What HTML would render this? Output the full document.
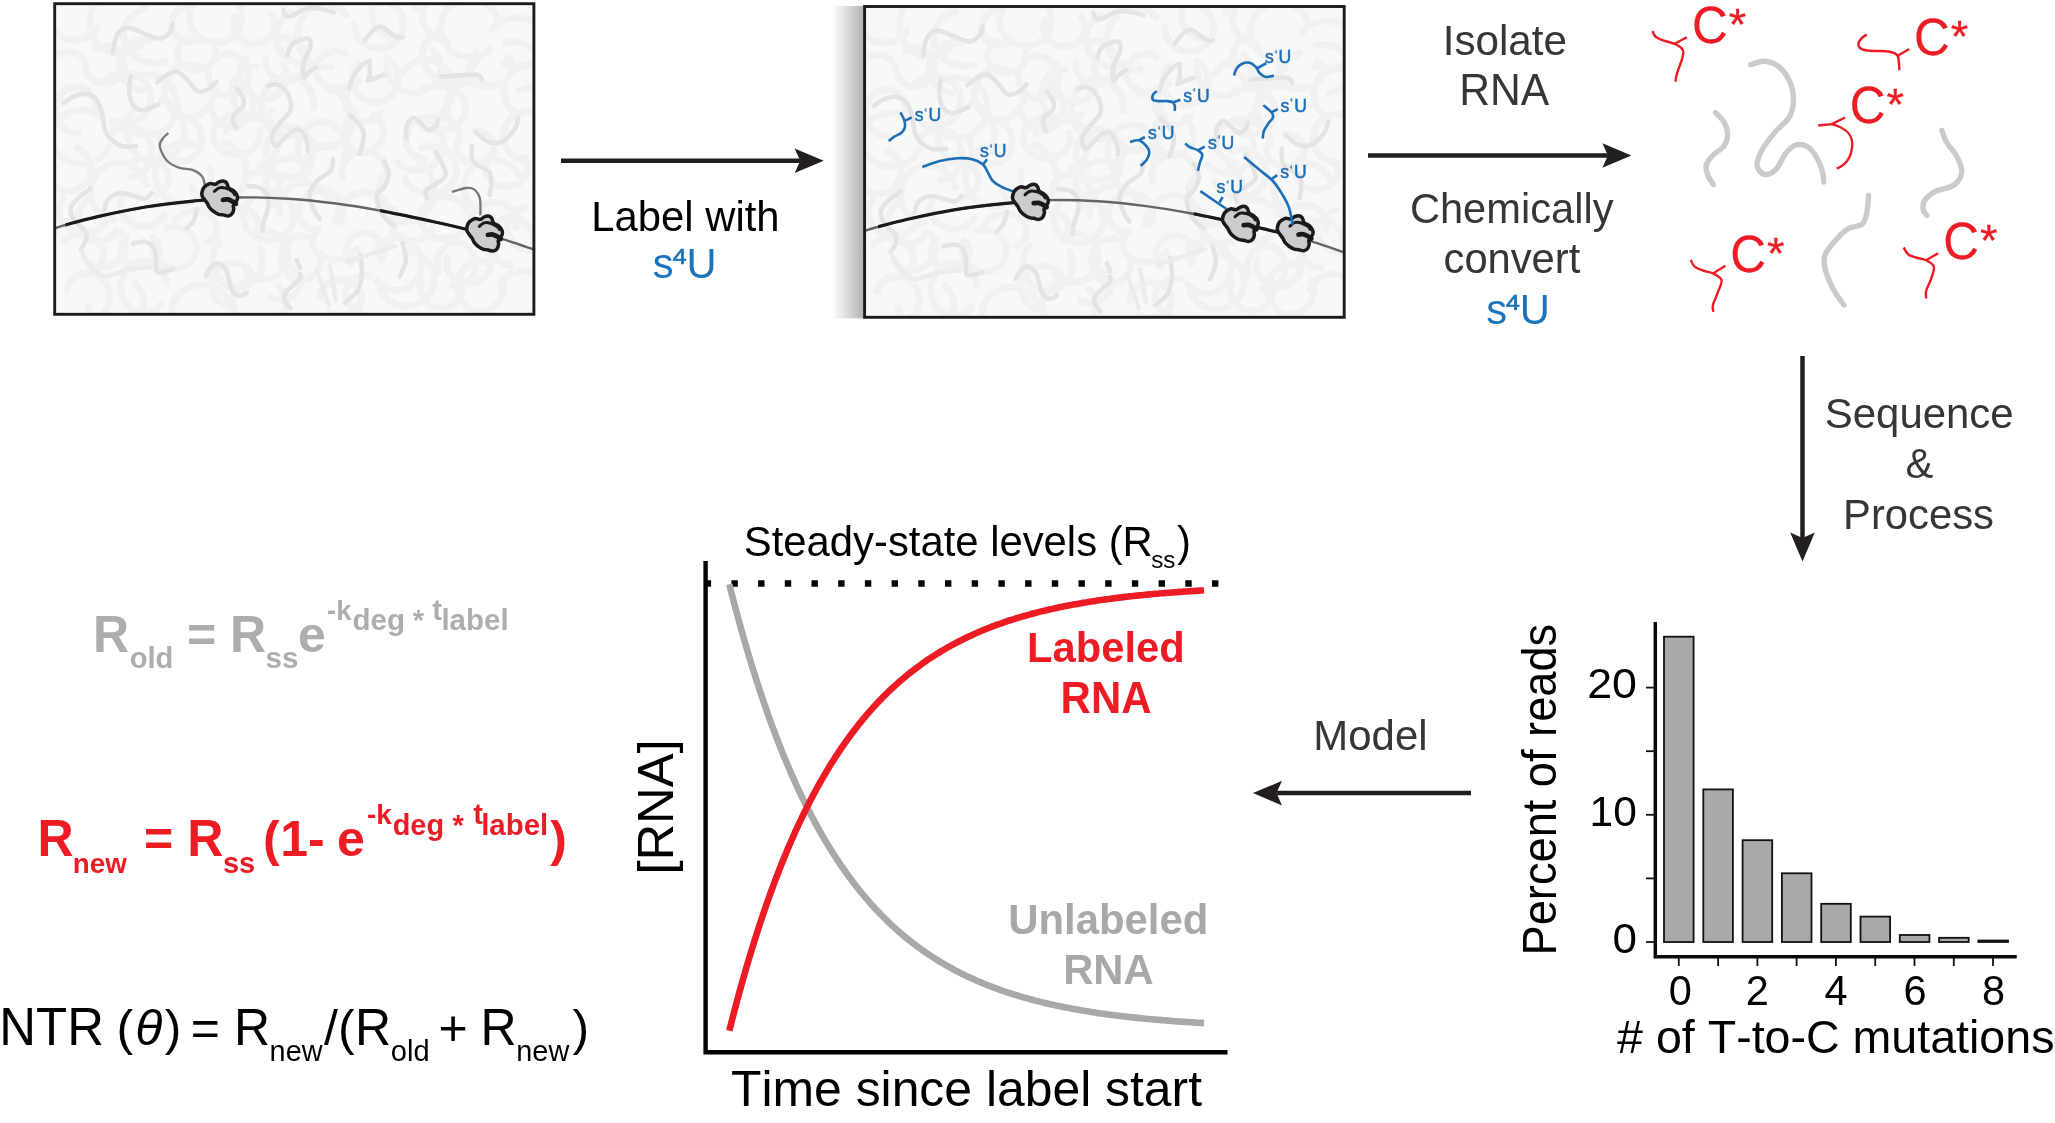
<!DOCTYPE html>
<html lang="en"><head><meta charset="utf-8"><title>s4U metabolic labeling schematic</title>
<style>html,body{margin:0;padding:0;background:#fff;}body{width:2055px;height:1123px;overflow:hidden;}svg{display:block;will-change:transform;}text{font-family:"Liberation Sans", Arial, Helvetica, sans-serif;font-kerning:none;white-space:pre;}</style></head><body>
<svg width="2055" height="1123" viewBox="0 0 2055 1123">
<defs>
<linearGradient id="shade" x1="0" y1="0" x2="1" y2="0"><stop offset="0" stop-color="#ffffff"/><stop offset="0.25" stop-color="#ececed"/><stop offset="0.6" stop-color="#cfd0d2"/><stop offset="1" stop-color="#adaeb2"/></linearGradient>
<g id="ribo"><path d="M-17.59,-5.17 C-17.42,-6.49 -16.84,-8.81 -16.10,-10.13 C-15.35,-11.46 -14.27,-12.29 -13.12,-13.12 C-11.96,-13.94 -10.63,-14.92 -9.14,-15.10 C-7.65,-15.28 -5.66,-13.96 -4.17,-14.21 C-2.68,-14.46 -1.52,-16.03 -0.20,-16.59 C1.13,-17.16 2.53,-17.75 3.78,-17.59 C5.02,-17.42 6.34,-16.76 7.25,-15.60 C8.16,-14.44 8.16,-11.87 9.24,-10.63 C10.32,-9.39 12.39,-9.22 13.71,-8.15 C15.04,-7.07 16.44,-5.50 17.19,-4.17 C17.93,-2.85 18.35,-1.61 18.18,-0.20 C18.02,1.21 16.91,3.03 16.20,4.27 C15.48,5.51 14.22,6.18 13.91,7.25 C13.60,8.33 14.51,9.41 14.31,10.73 C14.11,12.06 13.65,14.08 12.72,15.20 C11.79,16.33 10.23,17.29 8.74,17.49 C7.25,17.69 5.35,16.68 3.78,16.39 C2.20,16.11 0.96,16.41 -0.70,15.80 C-2.35,15.19 -4.59,13.89 -6.16,12.72 C-7.73,11.54 -9.14,10.07 -10.13,8.74 C-11.13,7.42 -11.29,6.09 -12.12,4.77 C-12.95,3.44 -14.27,1.95 -15.10,0.79 C-15.93,-0.36 -16.68,-1.19 -17.09,-2.19 C-17.50,-3.18 -17.75,-3.84 -17.59,-5.17 Z" fill="#cbccce" stroke="#1a1a1a" stroke-width="3.5" stroke-linejoin="round"/><path d="M-5.02,-7.16 C-4.22,-7.75 -2.08,-10.15 -0.21,-10.68 C1.66,-11.22 4.06,-10.95 6.20,-10.36 C8.33,-9.78 11.09,-8.23 12.61,-7.16 C14.12,-6.09 14.83,-4.49 15.28,-3.95" fill="none" stroke="#1a1a1a" stroke-width="3" stroke-linecap="round"/><path d="M3.63,1.28 C4.42,1.23 6.70,0.64 8.33,0.96 C9.97,1.28 12.11,2.48 13.46,3.21 C14.81,3.94 15.95,4.99 16.45,5.34" fill="none" stroke="#1a1a1a" stroke-width="4.8" stroke-linecap="round"/></g>
<g id="cellbg" fill="none" stroke-linecap="round">
<g stroke="#f1f1f2" stroke-width="7">
<path d="M96.8,28.7 A26.2,24.3 0 1 1 80.4,-8.0"/>
<path d="M48.1,73.1 A19.4,16.1 0 1 1 85.2,63.3"/>
<path d="M79.6,132.2 A20.4,23.0 0 1 1 96.3,109.3"/>
<path d="M108.9,146.7 A29.7,26.8 0 1 1 102.8,118.6"/>
<path d="M77.3,147.8 A22.4,22.5 0 1 1 49.6,180.6"/>
<path d="M105.2,223.0 A25.0,21.8 0 1 1 62.8,197.5"/>
<path d="M64.0,241.5 A22.5,20.3 0 1 1 79.6,275.1"/>
<path d="M67.1,288.8 A21.7,24.0 0 1 1 80.9,319.5"/>
<path d="M143.1,41.2 A29.8,31.7 0 1 1 129.7,-7.5"/>
<path d="M95.4,47.8 A19.4,19.4 0 1 1 85.9,68.0"/>
<path d="M103.1,82.9 A26.6,25.6 0 1 1 112.2,121.0"/>
<path d="M111.8,132.7 A24.2,25.3 0 1 1 130.1,177.0"/>
<path d="M112.8,220.2 A28.0,29.0 0 1 1 145.6,184.3"/>
<path d="M116.8,229.9 A20.8,22.3 0 1 1 90.6,198.1"/>
<path d="M120.4,231.0 A23.3,22.3 0 1 1 83.6,258.4"/>
<path d="M134.5,282.6 A28.0,26.5 0 1 1 88.2,305.4"/>
<path d="M164.5,61.7 A29.5,26.0 0 1 1 145.5,8.3"/>
<path d="M141.8,90.0 A25.5,24.1 0 1 1 150.0,39.9"/>
<path d="M136.8,77.4 A29.5,30.0 0 1 1 123.3,121.6"/>
<path d="M161.5,100.1 A28.9,31.2 0 1 1 135.7,108.1"/>
<path d="M134.8,161.2 A20.1,16.6 0 1 1 156.6,194.5"/>
<path d="M164.6,214.9 A22.7,19.4 0 1 1 123.0,196.9"/>
<path d="M153.6,237.5 A19.3,16.4 0 1 1 126.4,237.6"/>
<path d="M160.8,304.8 A23.0,26.4 0 1 1 166.6,282.8"/>
<path d="M202.8,38.5 A19.9,17.8 0 1 1 187.1,6.6"/>
<path d="M215.3,49.6 A19.3,16.4 0 1 1 187.6,38.7"/>
<path d="M213.5,86.3 A24.8,25.9 0 1 1 199.4,67.3"/>
<path d="M183.9,116.6 A20.8,22.4 0 1 1 160.3,138.4"/>
<path d="M210.8,168.5 A27.9,30.2 0 1 1 195.1,146.1"/>
<path d="M175.3,221.4 A21.5,17.4 0 1 1 206.7,242.7"/>
<path d="M166.8,228.4 A21.9,20.9 0 1 1 154.6,239.8"/>
<path d="M180.6,328.9 A29.5,25.9 0 1 1 229.0,301.2"/>
<path d="M236.7,3.5 A25.9,25.0 0 1 1 213.0,-7.0"/>
<path d="M217.9,56.5 A19.9,21.4 0 1 1 208.7,71.1"/>
<path d="M236.3,82.0 A21.0,22.6 0 1 1 212.0,110.6"/>
<path d="M259.6,130.3 A23.4,20.1 0 1 1 235.5,114.7"/>
<path d="M223.8,142.1 A29.0,31.5 0 1 1 192.1,188.4"/>
<path d="M215.9,214.6 A22.9,18.4 0 1 1 254.2,237.2"/>
<path d="M260.1,249.1 A24.8,27.4 0 1 1 219.1,242.5"/>
<path d="M227.6,305.9 A21.8,21.9 0 1 1 251.5,272.8"/>
<path d="M271.2,13.7 A20.4,19.6 0 1 1 235.2,16.7"/>
<path d="M283.6,64.6 A23.6,23.3 0 1 1 246.5,59.5"/>
<path d="M271.1,111.3 A23.8,25.7 0 1 1 255.4,66.4"/>
<path d="M226.3,130.9 A27.0,26.5 0 1 1 259.8,166.0"/>
<path d="M243.6,179.5 A20.2,18.1 0 1 1 271.3,205.0"/>
<path d="M269.9,192.1 A25.2,24.0 0 1 1 249.9,200.1"/>
<path d="M255.2,232.1 A24.6,24.3 0 1 1 245.6,271.7"/>
<path d="M279.1,286.6 A26.7,23.8 0 1 1 259.5,278.7"/>
<path d="M317.3,60.8 A28.2,27.0 0 1 1 291.3,12.2"/>
<path d="M275.6,40.4 A19.8,22.1 0 1 1 265.6,60.1"/>
<path d="M303.9,129.6 A26.3,29.9 0 1 1 313.8,107.6"/>
<path d="M266.1,155.6 A23.4,25.5 0 1 1 272.9,170.2"/>
<path d="M274.7,198.0 A24.7,22.5 0 1 1 310.5,167.4"/>
<path d="M280.1,212.7 A25.1,23.0 0 1 1 328.2,199.2"/>
<path d="M320.3,253.4 A19.7,22.5 0 1 1 306.6,236.5"/>
<path d="M289.7,267.3 A19.4,16.4 0 1 1 270.3,297.6"/>
<path d="M330.1,66.5 A28.0,31.4 0 1 1 346.3,14.7"/>
<path d="M354.4,77.7 A20.0,19.0 0 1 1 345.9,53.4"/>
<path d="M330.0,90.6 A26.0,28.6 0 1 1 305.6,135.6"/>
<path d="M308.9,171.5 A24.0,27.0 0 1 1 343.5,160.9"/>
<path d="M329.1,193.3 A24.8,21.2 0 1 1 335.4,145.2"/>
<path d="M313.6,229.8 A22.4,20.2 0 1 1 338.6,222.7"/>
<path d="M356.4,248.6 A22.8,18.4 0 1 1 318.7,228.9"/>
<path d="M319.5,297.8 A21.1,17.7 0 1 1 328.8,312.1"/>
<path d="M391.5,4.0 A24.4,23.9 0 1 1 354.7,24.6"/>
<path d="M386.7,58.7 A22.8,23.3 0 1 1 358.5,63.4"/>
<path d="M381.0,113.0 A19.6,20.8 0 1 1 359.3,81.0"/>
<path d="M374.2,114.8 A19.9,20.6 0 1 1 355.5,113.3"/>
<path d="M342.6,177.4 A22.2,21.2 0 1 1 385.6,177.6"/>
<path d="M335.2,221.3 A29.7,33.8 0 1 1 379.3,255.2"/>
<path d="M350.9,263.9 A19.0,18.6 0 1 1 381.6,260.2"/>
<path d="M360.2,312.1 A19.1,17.9 0 1 1 370.2,276.0"/>
<path d="M396.3,35.8 A22.3,22.0 0 1 1 415.9,9.8"/>
<path d="M433.2,50.8 A26.9,24.6 0 1 1 388.0,61.7"/>
<path d="M403.5,72.1 A27.0,29.5 0 1 1 431.2,117.9"/>
<path d="M428.0,119.5 A27.1,26.6 0 1 1 397.1,162.1"/>
<path d="M419.7,163.6 A27.9,31.0 0 1 1 381.3,177.3"/>
<path d="M433.0,226.6 A21.5,19.9 0 1 1 394.9,209.2"/>
<path d="M378.2,246.4 A25.1,26.1 0 1 1 377.2,281.4"/>
<path d="M406.1,251.3 A27.8,27.4 0 1 1 379.7,286.5"/>
<path d="M447.4,42.0 A27.1,24.2 0 1 1 456.8,-10.7"/>
<path d="M476.5,52.5 A27.1,25.3 0 1 1 438.3,32.1"/>
<path d="M422.3,89.8 A27.4,22.7 0 1 1 423.0,127.3"/>
<path d="M424.3,159.7 A27.2,21.9 0 1 1 459.8,140.4"/>
<path d="M421.5,147.9 A26.4,23.8 0 1 1 405.2,178.4"/>
<path d="M461.5,232.4 A24.1,21.0 0 1 1 467.4,211.6"/>
<path d="M438.1,272.1 A19.2,21.9 0 1 1 452.6,286.0"/>
<path d="M461.9,279.3 A21.3,21.4 0 1 1 421.5,280.3"/>
<path d="M489.6,49.5 A29.5,28.8 0 1 1 498.2,20.0"/>
<path d="M507.8,57.7 A21.5,17.4 0 1 1 473.2,58.0"/>
<path d="M458.2,125.5 A24.0,22.1 0 1 1 483.2,86.2"/>
<path d="M474.6,131.5 A19.0,16.0 0 1 1 458.1,141.1"/>
<path d="M484.6,213.0 A28.9,27.1 0 1 1 519.3,176.2"/>
<path d="M473.1,229.6 A23.0,18.8 0 1 1 515.4,227.1"/>
<path d="M488.9,255.6 A22.1,19.8 0 1 1 447.6,257.3"/>
<path d="M502.3,278.0 A23.1,25.1 0 1 1 487.8,262.6"/>
<path d="M491.9,29.7 A29.3,24.0 0 1 1 504.6,63.6"/>
<path d="M505.9,42.2 A27.3,22.3 0 1 1 518.6,90.6"/>
<path d="M514.8,112.7 A24.2,25.6 0 1 1 552.2,89.2"/>
<path d="M521.4,159.2 A26.2,24.6 0 1 1 555.3,139.2"/>
<path d="M524.6,157.6 A21.3,18.7 0 1 1 490.8,155.7"/>
<path d="M542.9,249.3 A23.9,19.9 0 1 1 525.4,207.1"/>
<path d="M510.7,265.2 A21.6,24.0 0 1 1 533.4,242.5"/>
<path d="M500.0,287.0 A23.6,21.6 0 1 1 532.3,312.3"/>
</g>
<g stroke="#e4e4e4" stroke-width="4.6">
<path d="M113.00,53.00 C113.30,51.02 113.67,44.73 114.80,41.10 C115.93,37.47 117.30,33.37 119.80,31.20 C122.30,29.03 125.63,27.68 129.80,28.10 C133.97,28.52 139.82,31.93 144.80,33.70 C149.78,35.47 155.55,38.92 159.70,38.70 C163.85,38.48 167.52,34.90 169.70,32.40 C171.88,29.90 172.28,25.15 172.80,23.70"/>
<path d="M130.80,76.70 C130.53,78.88 128.95,85.33 129.20,89.80 C129.45,94.27 130.12,100.08 132.30,103.50 C134.48,106.92 137.93,110.20 142.30,110.30 C146.67,110.40 155.80,105.13 158.50,104.10"/>
<path d="M157.20,82.30 C158.87,81.05 163.87,76.57 167.20,74.80 C170.53,73.03 173.87,70.87 177.20,71.70 C180.53,72.53 183.88,76.58 187.20,79.80 C190.52,83.02 193.78,89.33 197.10,91.00 C200.42,92.67 203.87,91.35 207.10,89.80 C210.33,88.25 214.93,83.05 216.50,81.70"/>
<path d="M63.70,102.90 C65.57,101.75 70.95,97.47 74.90,96.00 C78.85,94.53 83.65,93.27 87.40,94.10 C91.15,94.93 94.90,97.57 97.40,101.00 C99.90,104.43 101.15,109.92 102.40,114.70 C103.65,119.48 103.65,125.75 104.90,129.70 C106.15,133.65 107.05,135.68 109.90,138.40 C112.75,141.12 117.65,144.73 122.00,146.00 C126.35,147.27 133.67,146.00 136.00,146.00"/>
<path d="M237.00,88.50 C238.05,90.17 242.37,95.38 243.30,98.50 C244.23,101.62 244.07,104.70 242.60,107.20 C241.13,109.70 236.05,111.00 234.50,113.50 C232.95,116.00 232.98,119.72 233.30,122.20 C233.62,124.68 235.88,127.37 236.40,128.40"/>
<path d="M267.60,86.00 C269.37,85.80 274.77,83.33 278.20,84.80 C281.63,86.27 286.13,90.65 288.20,94.80 C290.27,98.95 291.85,105.13 290.60,109.70 C289.35,114.27 283.60,118.45 280.70,122.20 C277.80,125.95 274.65,129.28 273.20,132.20 C271.75,135.12 271.53,137.40 272.00,139.70 C272.47,142.00 274.13,146.00 276.00,146.00 C277.87,146.00 280.77,142.00 283.20,139.70 C285.63,137.40 287.80,133.87 290.60,132.20 C293.40,130.53 297.28,128.10 300.00,129.70 C302.72,131.30 305.60,138.23 306.90,141.80 C308.20,145.37 307.65,149.55 307.80,151.10"/>
<path d="M283.20,10.00 C283.82,11.03 285.03,15.37 286.90,16.20 C288.77,17.03 292.22,15.83 294.40,15.00 C296.58,14.17 297.40,12.35 300.00,11.20 C302.60,10.05 306.27,8.40 310.00,8.10 C313.73,7.80 318.47,8.67 322.40,9.40 C326.33,10.13 331.73,11.98 333.60,12.50"/>
<path d="M287.50,55.50 C288.02,53.93 288.93,48.50 290.60,46.10 C292.27,43.70 294.48,42.33 297.50,41.10 C300.52,39.87 306.62,37.45 308.70,38.70 C310.78,39.95 310.83,44.67 310.00,48.60 C309.17,52.53 304.75,57.52 303.70,62.30 C302.65,67.08 302.87,75.63 303.70,77.30 C304.53,78.97 306.62,73.97 308.70,72.30 C310.78,70.63 314.95,68.13 316.20,67.30"/>
<path d="M364.80,40.50 C366.05,38.95 369.60,33.48 372.30,31.20 C375.00,28.92 378.08,26.60 381.00,26.80 C383.92,27.00 387.10,30.63 389.80,32.40 C392.50,34.17 395.03,36.57 397.20,37.40 C399.37,38.23 401.87,37.40 402.80,37.40"/>
<path d="M349.20,88.50 C349.93,86.43 351.42,80.05 353.60,76.10 C355.78,72.15 359.60,67.30 362.30,64.80 C365.00,62.30 368.55,61.72 369.80,61.10"/>
<path d="M440.90,76.70 C443.80,76.48 452.28,75.72 458.30,75.40 C464.32,75.08 473.05,74.07 477.00,74.80 C480.95,75.53 481.17,78.97 482.00,79.80"/>
<path d="M349.90,115.30 C351.13,116.45 355.02,119.38 357.30,122.20 C359.58,125.02 362.70,128.65 363.60,132.20 C364.50,135.75 363.40,139.92 362.70,143.50 C362.00,147.08 359.95,152.00 359.40,153.70"/>
<path d="M406.60,138.40 C406.60,136.32 405.47,129.33 406.60,125.90 C407.73,122.47 411.02,118.22 413.40,117.80 C415.78,117.38 418.40,121.42 420.90,123.40 C423.40,125.38 425.90,129.28 428.40,129.70 C430.90,130.12 434.33,127.57 435.90,125.90 C437.47,124.23 437.48,120.73 437.80,119.70"/>
<path d="M475.80,132.20 C477.82,133.80 483.63,140.20 487.90,141.80 C492.17,143.40 496.98,143.82 501.40,141.80 C505.82,139.78 511.60,133.58 514.40,129.70 C517.20,125.82 517.57,120.37 518.20,118.50"/>
<path d="M90.50,188.70 C88.53,190.17 82.02,194.17 78.70,197.50 C75.38,200.83 71.23,204.77 70.60,208.70 C69.97,212.63 72.30,217.15 74.90,221.10 C77.50,225.05 84.53,228.87 86.20,232.40 C87.87,235.93 85.85,239.50 84.90,242.30 C83.95,245.10 81.23,248.05 80.50,249.20"/>
<path d="M104.20,209.90 C104.93,208.03 105.78,201.50 108.60,198.70 C111.42,195.90 116.73,193.52 121.10,193.10 C125.47,192.68 130.85,195.27 134.80,196.20 C138.75,197.13 142.00,199.22 144.80,198.70 C147.60,198.18 150.47,194.03 151.60,193.10"/>
<path d="M132.90,243.60 C134.88,243.28 141.37,241.08 144.80,241.70 C148.23,242.32 151.63,244.28 153.50,247.30 C155.37,250.32 155.48,255.75 156.00,259.80 C156.52,263.85 155.15,269.63 156.60,271.60 C158.05,273.57 162.00,272.00 164.70,271.60 C167.40,271.20 171.45,269.60 172.80,269.20"/>
<path d="M205.90,276.00 C206.72,274.55 208.73,269.38 210.80,267.30 C212.87,265.22 215.80,263.08 218.30,263.50 C220.80,263.92 223.92,266.68 225.80,269.80 C227.68,272.92 228.35,278.47 229.60,282.20 C230.85,285.93 231.65,289.90 233.30,292.20 C234.95,294.50 237.22,295.90 239.50,296.00 C241.78,296.10 245.75,293.33 247.00,292.80"/>
<path d="M186.50,228.60 C187.65,227.35 191.63,224.42 193.40,221.10 C195.17,217.78 196.48,210.77 197.10,208.70"/>
<path d="M248.30,186.20 C250.17,186.42 256.38,186.03 259.50,187.50 C262.62,188.97 265.55,191.68 267.00,195.00 C268.45,198.32 268.73,203.05 268.20,207.40 C267.67,211.75 264.73,217.25 263.80,221.10 C262.87,224.95 262.80,228.93 262.60,230.50"/>
<path d="M300.00,274.00 C300.02,274.80 302.28,275.97 300.10,278.80 C297.92,281.63 289.52,287.52 286.90,291.00 C284.28,294.48 283.78,296.80 284.40,299.70 C285.02,302.60 289.57,306.95 290.60,308.40"/>
<path d="M333.10,158.80 C332.68,160.77 333.27,166.95 330.60,170.60 C327.93,174.25 320.62,176.75 317.10,180.70 C313.58,184.65 310.07,189.50 309.50,194.30 C308.93,199.10 312.02,205.42 313.70,209.50 C315.38,213.58 318.62,217.25 319.60,218.80"/>
<path d="M383.90,161.30 C384.75,163.42 389.00,169.63 389.00,174.00 C389.00,178.37 385.88,184.12 383.90,187.50 C381.92,190.88 377.82,190.63 377.10,194.30 C376.38,197.97 378.05,205.28 379.60,209.50 C381.15,213.72 384.00,216.92 386.40,219.60 C388.80,222.28 392.73,224.60 394.00,225.60"/>
<path d="M435.50,152.00 C436.62,153.97 440.52,159.85 442.20,163.80 C443.88,167.75 446.72,172.32 445.60,175.70 C444.48,179.08 438.88,181.57 435.50,184.10 C432.12,186.63 426.72,188.50 425.30,190.90 C423.88,193.30 426.72,197.23 427.00,198.50"/>
<path d="M471.80,146.10 C471.95,148.48 471.15,156.88 472.70,160.40 C474.25,163.92 478.28,165.22 481.10,167.20 C483.92,169.18 487.90,169.48 489.60,172.30 C491.30,175.12 491.30,180.30 491.30,184.10 C491.30,187.90 489.88,193.27 489.60,195.10"/>
<path d="M360.20,254.30 C360.48,257.55 362.32,267.73 361.90,273.80 C361.48,279.87 360.52,285.92 357.70,290.70 C354.88,295.48 347.12,300.53 345.00,302.50"/>
<path d="M402.50,243.30 C403.07,246.12 406.33,254.70 405.90,260.20 C405.47,265.70 400.90,273.62 399.90,276.30"/>
<path d="M296.80,260.20 C297.35,261.50 299.55,266.70 300.10,268.00"/>
<path d="M369.8,61.1 L369.8,74.8 L367.3,81 L383.5,74.8" stroke-linejoin="round"/>
</g>
<g stroke="#ececee" stroke-width="4.5"><path d="M81.00,251.00 C82.67,253.75 87.00,263.33 91.00,267.50 C95.00,271.67 99.00,275.58 105.00,276.00 C111.00,276.42 119.50,271.45 127.00,270.00 C134.50,268.55 146.17,267.75 150.00,267.30"/><path d="M330,266 L336,300 M317,271 L329,306 M347,262 L395,246"/></g>
</g></g>
<clipPath id="c1a"><rect x="65.5" y="150" width="140" height="120"/></clipPath>
<clipPath id="c1b"><rect x="380.2" y="150" width="95" height="120"/></clipPath>
<clipPath id="c2a"><rect x="877.9" y="150" width="140" height="120"/></clipPath>
<clipPath id="c2b"><rect x="1193.8" y="150" width="90" height="120"/></clipPath>
<clipPath id="box1"><rect x="54.7" y="3.7" width="479.2" height="310.6"/></clipPath>
<clipPath id="box2"><rect x="864.6" y="6.5" width="479.6" height="310.8"/></clipPath>
</defs>
<rect x="0" y="0" width="2055" height="1123" fill="#ffffff"/>
<g id="panel-cell-before">
<rect x="54.7" y="3.7" width="479.2" height="310.6" fill="#f7f8f8"/>
<g clip-path="url(#box1)"><use href="#cellbg" x="0" y="0"/></g>
<path d="M54.70,228.30 C56.50,227.73 58.33,226.85 65.50,224.90 C72.67,222.95 84.38,219.58 97.70,216.60 C111.02,213.62 129.50,209.58 145.40,207.00 C161.30,204.42 177.60,202.68 193.10,201.10 C208.60,199.52 222.52,197.90 238.40,197.50 C254.28,197.10 272.12,197.70 288.40,198.70 C304.68,199.70 320.80,201.52 336.10,203.50 C351.40,205.48 364.30,207.63 380.20,210.60 C396.10,213.57 417.20,218.20 431.50,221.30 C445.80,224.40 454.08,226.22 466.00,229.20 C477.92,232.18 491.50,235.73 503.00,239.20 C514.50,242.67 529.67,248.20 535.00,250.00" fill="none" stroke="#636466" stroke-width="2.4"/>
<path d="M54.70,228.30 C56.50,227.73 58.33,226.85 65.50,224.90 C72.67,222.95 84.38,219.58 97.70,216.60 C111.02,213.62 129.50,209.58 145.40,207.00 C161.30,204.42 177.60,202.68 193.10,201.10 C208.60,199.52 222.52,197.90 238.40,197.50 C254.28,197.10 272.12,197.70 288.40,198.70 C304.68,199.70 320.80,201.52 336.10,203.50 C351.40,205.48 364.30,207.63 380.20,210.60 C396.10,213.57 417.20,218.20 431.50,221.30 C445.80,224.40 454.08,226.22 466.00,229.20 C477.92,232.18 491.50,235.73 503.00,239.20 C514.50,242.67 529.67,248.20 535.00,250.00" fill="none" stroke="#1a1a1a" stroke-width="3.2" clip-path="url(#c1a)"/>
<path d="M54.70,228.30 C56.50,227.73 58.33,226.85 65.50,224.90 C72.67,222.95 84.38,219.58 97.70,216.60 C111.02,213.62 129.50,209.58 145.40,207.00 C161.30,204.42 177.60,202.68 193.10,201.10 C208.60,199.52 222.52,197.90 238.40,197.50 C254.28,197.10 272.12,197.70 288.40,198.70 C304.68,199.70 320.80,201.52 336.10,203.50 C351.40,205.48 364.30,207.63 380.20,210.60 C396.10,213.57 417.20,218.20 431.50,221.30 C445.80,224.40 454.08,226.22 466.00,229.20 C477.92,232.18 491.50,235.73 503.00,239.20 C514.50,242.67 529.67,248.20 535.00,250.00" fill="none" stroke="#1a1a1a" stroke-width="3.2" clip-path="url(#c1b)"/>
<path d="M205.50,190.30 C205.02,188.12 204.67,180.57 202.60,177.20 C200.53,173.83 197.07,171.68 193.10,170.10 C189.13,168.52 183.18,169.30 178.80,167.70 C174.42,166.10 169.98,164.08 166.80,160.50 C163.62,156.92 160.28,149.97 159.70,146.20 C159.12,142.43 161.83,140.08 163.30,137.90 C164.77,135.72 167.63,133.90 168.50,133.10" fill="none" stroke="#77787b" stroke-width="2.3"/>
<path d="M480.40,215.40 C480.32,212.62 480.90,203.00 479.90,198.70 C478.90,194.40 476.70,191.38 474.40,189.60 C472.10,187.82 469.87,187.60 466.10,188.00 C462.33,188.40 454.18,191.33 451.80,192.00" fill="none" stroke="#77787b" stroke-width="2.3"/>
<use href="#ribo" x="219.4" y="198.5"/>
<use href="#ribo" x="484.3" y="233.6"/>
<rect x="54.7" y="3.7" width="479.2" height="310.6" fill="none" stroke="#1c1a1a" stroke-width="2.9"/>
</g>
<path d="M561.0,160.7 L800.2,160.7" stroke="#231f20" stroke-width="4.5" fill="none"/><path d="M823.7,160.7 L794.7,173.0 L800.2,160.7 L794.7,148.4 Z" fill="#231f20"/>
<text transform="translate(591.37,230.60)" font-size="41.80" fill="#000">Label with</text>
<text transform="translate(652.84,277.90)" font-size="41.67" fill="#1b75bc">s</text><text transform="translate(672.78,263.60) scale(1.150,1)" font-size="21.57" fill="#1b75bc" stroke="#1b75bc" stroke-width="0.7">4</text><text transform="translate(686.49,277.90) scale(1,1.040)" font-size="41.67" fill="#1b75bc">U</text>
<g id="panel-cell-labeled">
<rect x="832" y="5.9" width="32.6" height="312.4" fill="url(#shade)"/>
<rect x="864.6" y="6.5" width="479.6" height="310.8" fill="#f7f8f8"/>
<g clip-path="url(#box2)"><use href="#cellbg" x="810" y="2.9"/></g>
<path d="M864.70,230.90 C866.50,230.33 868.33,229.45 875.50,227.50 C882.67,225.55 894.38,222.18 907.70,219.20 C921.02,216.22 939.50,212.18 955.40,209.60 C971.30,207.02 987.60,205.28 1003.10,203.70 C1018.60,202.12 1032.52,200.50 1048.40,200.10 C1064.28,199.70 1082.12,200.30 1098.40,201.30 C1114.68,202.30 1130.80,204.12 1146.10,206.10 C1161.40,208.08 1174.30,210.23 1190.20,213.20 C1206.10,216.17 1227.20,220.80 1241.50,223.90 C1255.80,227.00 1264.08,228.82 1276.00,231.80 C1287.92,234.78 1301.50,238.33 1313.00,241.80 C1324.50,245.27 1339.67,250.80 1345.00,252.60" fill="none" stroke="#636466" stroke-width="2.4"/>
<path d="M864.70,230.90 C866.50,230.33 868.33,229.45 875.50,227.50 C882.67,225.55 894.38,222.18 907.70,219.20 C921.02,216.22 939.50,212.18 955.40,209.60 C971.30,207.02 987.60,205.28 1003.10,203.70 C1018.60,202.12 1032.52,200.50 1048.40,200.10 C1064.28,199.70 1082.12,200.30 1098.40,201.30 C1114.68,202.30 1130.80,204.12 1146.10,206.10 C1161.40,208.08 1174.30,210.23 1190.20,213.20 C1206.10,216.17 1227.20,220.80 1241.50,223.90 C1255.80,227.00 1264.08,228.82 1276.00,231.80 C1287.92,234.78 1301.50,238.33 1313.00,241.80 C1324.50,245.27 1339.67,250.80 1345.00,252.60" fill="none" stroke="#1a1a1a" stroke-width="3.2" clip-path="url(#c2a)"/>
<path d="M864.70,230.90 C866.50,230.33 868.33,229.45 875.50,227.50 C882.67,225.55 894.38,222.18 907.70,219.20 C921.02,216.22 939.50,212.18 955.40,209.60 C971.30,207.02 987.60,205.28 1003.10,203.70 C1018.60,202.12 1032.52,200.50 1048.40,200.10 C1064.28,199.70 1082.12,200.30 1098.40,201.30 C1114.68,202.30 1130.80,204.12 1146.10,206.10 C1161.40,208.08 1174.30,210.23 1190.20,213.20 C1206.10,216.17 1227.20,220.80 1241.50,223.90 C1255.80,227.00 1264.08,228.82 1276.00,231.80 C1287.92,234.78 1301.50,238.33 1313.00,241.80 C1324.50,245.27 1339.67,250.80 1345.00,252.60" fill="none" stroke="#1a1a1a" stroke-width="3.2" clip-path="url(#c2b)"/>
<g fill="none" stroke="#1c6fb7" stroke-width="2.6" stroke-linecap="butt">
<path d="M900.50,112.40 C901.13,113.75 903.57,118.00 904.30,120.50 C905.03,123.00 905.42,125.32 904.90,127.40 C904.38,129.48 902.97,131.45 901.20,133.00 C899.43,134.55 896.38,135.35 894.30,136.70 C892.22,138.05 889.63,140.37 888.70,141.10 M904.3,121.2 L911.7,117.4"/>
<path d="M922.30,166.90 C925.22,165.92 933.98,162.43 939.80,161.00 C945.62,159.57 951.80,158.60 957.20,158.30 C962.60,158.00 967.93,158.22 972.20,159.20 C976.47,160.18 980.20,162.02 982.80,164.20 C985.40,166.38 986.13,169.50 987.80,172.30 C989.47,175.10 990.42,178.52 992.80,181.00 C995.18,183.48 997.95,185.17 1002.10,187.20 C1006.25,189.23 1015.10,192.20 1017.70,193.20 M983.2,164.4 L987.1,159.2"/>
<path d="M1234.00,75.50 C1234.42,74.37 1235.15,70.67 1236.50,68.70 C1237.85,66.73 1239.92,64.70 1242.10,63.70 C1244.28,62.70 1247.32,62.18 1249.60,62.70 C1251.88,63.22 1254.13,65.08 1255.80,66.80 C1257.47,68.52 1257.93,71.30 1259.60,73.00 C1261.27,74.70 1263.42,76.58 1265.80,77.00 C1268.18,77.42 1272.55,75.75 1273.90,75.50 M1257.7,68.0 L1266.4,63.1"/>
<path d="M1156.80,91.10 C1156.17,91.72 1153.63,93.35 1153.00,94.80 C1152.37,96.25 1152.07,98.75 1153.00,99.80 C1153.93,100.85 1156.20,100.88 1158.60,101.10 C1161.00,101.32 1165.00,100.90 1167.40,101.10 C1169.80,101.30 1171.77,101.48 1173.00,102.30 C1174.23,103.12 1174.50,104.55 1174.80,106.00 C1175.10,107.45 1174.80,110.17 1174.80,111.00 M1173.6,102.3 L1180.4,99.8"/>
<path d="M1263.30,105.10 C1264.65,106.30 1269.78,110.27 1271.40,112.30 C1273.02,114.33 1273.52,115.43 1273.00,117.30 C1272.48,119.17 1269.82,121.22 1268.30,123.50 C1266.78,125.78 1264.83,128.50 1263.90,131.00 C1262.97,133.50 1262.90,137.25 1262.70,138.50 M1271.4,112.3 L1277.7,109.2"/>
<path d="M1130.00,141.90 C1131.45,141.63 1136.00,139.63 1138.70,140.30 C1141.40,140.97 1144.43,143.92 1146.20,145.90 C1147.97,147.88 1149.20,149.92 1149.30,152.20 C1149.40,154.48 1148.25,157.32 1146.80,159.60 C1145.35,161.88 1141.63,164.85 1140.60,165.90 M1138.7,140.3 L1144.9,137.0"/>
<path d="M1185.10,143.40 C1185.88,144.03 1187.67,146.05 1189.80,147.20 C1191.93,148.35 1195.82,149.05 1197.90,150.30 C1199.98,151.55 1201.98,152.62 1202.30,154.70 C1202.62,156.78 1200.53,160.10 1199.80,162.80 C1199.07,165.50 1198.22,169.55 1197.90,170.90 M1197.9,150.3 L1204.7,146.6"/>
<path d="M1200.30,191.10 C1204.75,194.13 1222.55,206.27 1227.00,209.30 M1219.5,202.4 L1222.7,197.0"/>
</g>
<text transform="translate(914.81,121.20)" font-size="17.60" fill="#1c6fb7" stroke="#1c6fb7" stroke-width="0.5">s</text><text transform="translate(924.33,111.60)" font-size="4.60" font-weight="bold" fill="#1c6fb7">4</text><text transform="translate(928.44,121.20) scale(1,1.030)" font-size="17.60" fill="#1c6fb7" stroke="#1c6fb7" stroke-width="0.5">U</text>
<text transform="translate(980.01,157.30)" font-size="17.60" fill="#1c6fb7" stroke="#1c6fb7" stroke-width="0.5">s</text><text transform="translate(989.53,147.70)" font-size="4.60" font-weight="bold" fill="#1c6fb7">4</text><text transform="translate(993.64,157.30) scale(1,1.030)" font-size="17.60" fill="#1c6fb7" stroke="#1c6fb7" stroke-width="0.5">U</text>
<text transform="translate(1264.91,63.10)" font-size="17.60" fill="#1c6fb7" stroke="#1c6fb7" stroke-width="0.5">s</text><text transform="translate(1274.43,53.50)" font-size="4.60" font-weight="bold" fill="#1c6fb7">4</text><text transform="translate(1278.54,63.10) scale(1,1.030)" font-size="17.60" fill="#1c6fb7" stroke="#1c6fb7" stroke-width="0.5">U</text>
<text transform="translate(1183.31,101.70)" font-size="17.60" fill="#1c6fb7" stroke="#1c6fb7" stroke-width="0.5">s</text><text transform="translate(1192.83,92.10)" font-size="4.60" font-weight="bold" fill="#1c6fb7">4</text><text transform="translate(1196.94,101.70) scale(1,1.030)" font-size="17.60" fill="#1c6fb7" stroke="#1c6fb7" stroke-width="0.5">U</text>
<text transform="translate(1280.51,112.00)" font-size="17.60" fill="#1c6fb7" stroke="#1c6fb7" stroke-width="0.5">s</text><text transform="translate(1290.03,102.40)" font-size="4.60" font-weight="bold" fill="#1c6fb7">4</text><text transform="translate(1294.14,112.00) scale(1,1.030)" font-size="17.60" fill="#1c6fb7" stroke="#1c6fb7" stroke-width="0.5">U</text>
<text transform="translate(1148.11,139.30)" font-size="17.60" fill="#1c6fb7" stroke="#1c6fb7" stroke-width="0.5">s</text><text transform="translate(1157.63,129.70)" font-size="4.60" font-weight="bold" fill="#1c6fb7">4</text><text transform="translate(1161.74,139.30) scale(1,1.030)" font-size="17.60" fill="#1c6fb7" stroke="#1c6fb7" stroke-width="0.5">U</text>
<text transform="translate(1207.91,149.00)" font-size="17.60" fill="#1c6fb7" stroke="#1c6fb7" stroke-width="0.5">s</text><text transform="translate(1217.43,139.40)" font-size="4.60" font-weight="bold" fill="#1c6fb7">4</text><text transform="translate(1221.54,149.00) scale(1,1.030)" font-size="17.60" fill="#1c6fb7" stroke="#1c6fb7" stroke-width="0.5">U</text>
<text transform="translate(1216.61,193.30)" font-size="17.60" fill="#1c6fb7" stroke="#1c6fb7" stroke-width="0.5">s</text><text transform="translate(1226.13,183.70)" font-size="4.60" font-weight="bold" fill="#1c6fb7">4</text><text transform="translate(1230.24,193.30) scale(1,1.030)" font-size="17.60" fill="#1c6fb7" stroke="#1c6fb7" stroke-width="0.5">U</text>
<text transform="translate(1280.31,178.30)" font-size="17.60" fill="#1c6fb7" stroke="#1c6fb7" stroke-width="0.5">s</text><text transform="translate(1289.83,168.70)" font-size="4.60" font-weight="bold" fill="#1c6fb7">4</text><text transform="translate(1293.94,178.30) scale(1,1.030)" font-size="17.60" fill="#1c6fb7" stroke="#1c6fb7" stroke-width="0.5">U</text>
<use href="#ribo" x="1030.1" y="201.9"/>
<use href="#ribo" x="1240.1" y="223.9"/>
<use href="#ribo" x="1294.9" y="233.3"/>
<path d="M1244.10,156.90 C1246.77,159.13 1255.30,166.28 1260.10,170.30 C1264.90,174.32 1269.15,176.90 1272.90,181.00 C1276.65,185.10 1279.92,190.45 1282.60,194.90 C1285.28,199.35 1287.32,202.72 1289.00,207.70 C1290.68,212.68 1292.08,221.95 1292.70,224.80 M1271.9,178.8 L1277.2,175.1" fill="none" stroke="#1c6fb7" stroke-width="2.6"/>
<rect x="864.6" y="6.5" width="479.6" height="310.8" fill="none" stroke="#1c1a1a" stroke-width="2.9"/>
</g>
<path d="M1368.0,155.5 L1607.9,155.5" stroke="#231f20" stroke-width="4.5" fill="none"/><path d="M1631.4,155.5 L1602.4,167.8 L1607.9,155.5 L1602.4,143.2 Z" fill="#231f20"/>
<text transform="translate(1442.71,54.50)" font-size="42.18" fill="#363636">Isolate</text>
<text transform="translate(1459.30,104.80) scale(1,1.040)" font-size="42.62" fill="#363636">RNA</text>
<text transform="translate(1409.89,223.00)" font-size="41.63" fill="#363636">Chemically</text>
<text transform="translate(1443.53,272.70)" font-size="41.71" fill="#363636">convert</text>
<text transform="translate(1486.14,324.00)" font-size="41.67" fill="#1b75bc">s</text><text transform="translate(1506.08,309.70) scale(1.150,1)" font-size="21.57" fill="#1b75bc" stroke="#1b75bc" stroke-width="0.7">4</text><text transform="translate(1519.79,324.00) scale(1,1.040)" font-size="41.67" fill="#1b75bc">U</text>
<path d="M1802.5,356.0 L1802.5,538.0" stroke="#231f20" stroke-width="4.5" fill="none"/><path d="M1802.5,561.5 L1790.2,532.5 L1802.5,538.0 L1814.8,532.5 Z" fill="#231f20"/>
<text transform="translate(1824.80,428.40)" font-size="41.93" fill="#363636">Sequence</text>
<text transform="translate(1905.44,478.00)" font-size="41.67" fill="#363636">&amp;</text>
<text transform="translate(1843.07,528.50)" font-size="41.78" fill="#363636">Process</text>
<text transform="translate(1313.36,749.70)" font-size="41.91" fill="#363636">Model</text>
<path d="M1471.0,793.1 L1276.5,793.1" stroke="#231f20" stroke-width="4.5" fill="none"/><path d="M1253.0,793.1 L1282.0,780.8 L1276.5,793.1 L1282.0,805.4 Z" fill="#231f20"/>
<g id="isolated-rna">
<g fill="none" stroke="#c9cacc" stroke-width="5.4" stroke-linecap="round">
<path d="M1750.60,64.70 C1752.90,64.12 1759.83,60.98 1764.40,61.20 C1768.97,61.42 1773.90,62.87 1778.00,66.00 C1782.10,69.13 1786.43,74.80 1789.00,80.00 C1791.57,85.20 1793.23,91.20 1793.40,97.20 C1793.57,103.20 1793.10,110.13 1790.00,116.00 C1786.90,121.87 1779.47,126.73 1774.80,132.40 C1770.13,138.07 1764.95,144.77 1762.00,150.00 C1759.05,155.23 1757.43,160.22 1757.10,163.80 C1756.77,167.38 1758.25,169.73 1760.00,171.50 C1761.75,173.27 1764.72,175.03 1767.60,174.40 C1770.48,173.77 1774.23,171.27 1777.30,167.70 C1780.37,164.13 1782.88,156.78 1786.00,153.00 C1789.12,149.22 1792.33,146.00 1796.00,145.00 C1799.67,144.00 1804.50,144.83 1808.00,147.00 C1811.50,149.17 1814.60,153.92 1817.00,158.00 C1819.40,162.08 1821.27,167.48 1822.40,171.50 C1823.53,175.52 1823.57,180.33 1823.80,182.10"/>
<path d="M1715.40,112.50 C1716.83,114.08 1721.97,118.42 1724.00,122.00 C1726.03,125.58 1727.60,130.00 1727.60,134.00 C1727.60,138.00 1726.60,142.33 1724.00,146.00 C1721.40,149.67 1714.98,152.70 1712.00,156.00 C1709.02,159.30 1706.77,162.57 1706.10,165.80 C1705.43,169.03 1706.78,172.27 1708.00,175.40 C1709.22,178.53 1712.50,183.07 1713.40,184.60"/>
<path d="M1941.80,130.40 C1942.67,132.50 1944.63,138.90 1947.00,143.00 C1949.37,147.10 1953.53,150.25 1956.00,155.00 C1958.47,159.75 1962.12,166.50 1961.80,171.50 C1961.48,176.50 1958.58,181.63 1954.10,185.00 C1949.62,188.37 1939.87,188.98 1934.90,191.70 C1929.93,194.42 1926.23,198.25 1924.30,201.30 C1922.37,204.35 1922.88,207.65 1923.30,210.00 C1923.72,212.35 1926.22,214.50 1926.80,215.40"/>
<path d="M1868.60,195.20 C1868.27,198.30 1867.73,208.93 1866.60,213.80 C1865.47,218.67 1864.68,222.00 1861.80,224.40 C1858.92,226.80 1853.47,225.80 1849.30,228.20 C1845.13,230.60 1840.80,234.47 1836.80,238.80 C1832.80,243.13 1827.28,249.40 1825.30,254.20 C1823.32,259.00 1823.62,261.83 1824.90,267.60 C1826.18,273.37 1829.80,282.55 1833.00,288.80 C1836.20,295.05 1842.25,302.38 1844.10,305.10"/>
</g>
<g fill="none" stroke="#ed1c24" stroke-width="2.4" stroke-linecap="butt">
<path d="M1652.8,31 C1654,40 1664,40 1674.5,43.8 C1680,46 1683,48 1683.4,52 C1683,62 1676,70 1675.5,81.7 M1674.5,43.8 L1686.9,37.2"/>
<path d="M1866.8,34.7 C1860,38 1856,44 1860,48 C1866,53 1878,50 1886.5,51.3 C1892,52 1896,53 1897.8,55.8 C1899,60 1899.3,64 1899.3,70.3 M1897.8,55.8 L1909.2,49"/>
<path d="M1818.2,125.5 L1831.7,124.1 C1846,128 1852,134 1852.3,144 C1852,154 1848,164 1836.8,168.6 M1831.7,124.1 L1845.1,117.5"/>
<path d="M1690.80,260.00 C1691.43,261.12 1692.57,264.95 1694.60,266.70 C1696.63,268.45 1699.95,269.38 1703.00,270.50 C1706.05,271.62 1709.82,271.80 1712.90,273.40 C1715.98,275.00 1720.70,276.90 1721.50,280.10 C1722.30,283.30 1719.13,288.43 1717.70,292.60 C1716.27,296.77 1713.62,301.90 1712.90,305.10 C1712.18,308.30 1713.32,310.68 1713.40,311.80 M1712.9,273.4 L1725.4,265.7"/>
<path d="M1903.70,247.50 C1904.42,248.62 1905.95,252.53 1908.00,254.20 C1910.05,255.87 1912.97,256.48 1916.00,257.50 C1919.03,258.52 1923.22,258.77 1926.20,260.30 C1929.18,261.83 1933.10,263.55 1933.90,266.70 C1934.70,269.85 1932.28,275.20 1931.00,279.20 C1929.72,283.20 1927.00,287.50 1926.20,290.70 C1925.40,293.90 1926.20,297.12 1926.20,298.40 M1926.2,260.3 L1938.1,253.2"/>
</g>
<text transform="translate(1691.99,42.80) scale(1,1.040)" font-size="49.50" fill="#ed1c24" stroke="#ed1c24" stroke-width="0.25">C</text><text transform="translate(1728.77,39.80)" font-size="45.00" fill="#ed1c24" stroke="#ed1c24" stroke-width="0.3">*</text>
<text transform="translate(1913.99,55.20) scale(1,1.040)" font-size="49.50" fill="#ed1c24" stroke="#ed1c24" stroke-width="0.25">C</text><text transform="translate(1950.77,52.20)" font-size="45.00" fill="#ed1c24" stroke="#ed1c24" stroke-width="0.3">*</text>
<text transform="translate(1849.79,123.10) scale(1,1.040)" font-size="49.50" fill="#ed1c24" stroke="#ed1c24" stroke-width="0.25">C</text><text transform="translate(1886.57,120.10)" font-size="45.00" fill="#ed1c24" stroke="#ed1c24" stroke-width="0.3">*</text>
<text transform="translate(1730.19,271.90) scale(1,1.040)" font-size="49.50" fill="#ed1c24" stroke="#ed1c24" stroke-width="0.25">C</text><text transform="translate(1766.97,268.90)" font-size="45.00" fill="#ed1c24" stroke="#ed1c24" stroke-width="0.3">*</text>
<text transform="translate(1943.29,259.00) scale(1,1.040)" font-size="49.50" fill="#ed1c24" stroke="#ed1c24" stroke-width="0.25">C</text><text transform="translate(1980.07,256.00)" font-size="45.00" fill="#ed1c24" stroke="#ed1c24" stroke-width="0.3">*</text>
</g>
<g id="bar-chart">
<rect x="1664.0" y="636.7" width="29.6" height="305.3" fill="#a9a9a9" stroke="#111" stroke-width="1.8"/>
<rect x="1703.3" y="789.4" width="29.6" height="152.6" fill="#a9a9a9" stroke="#111" stroke-width="1.8"/>
<rect x="1742.6" y="840.2" width="29.6" height="101.8" fill="#a9a9a9" stroke="#111" stroke-width="1.8"/>
<rect x="1781.9" y="873.3" width="29.6" height="68.7" fill="#a9a9a9" stroke="#111" stroke-width="1.8"/>
<rect x="1821.2" y="903.8" width="29.6" height="38.2" fill="#a9a9a9" stroke="#111" stroke-width="1.8"/>
<rect x="1860.5" y="916.6" width="29.6" height="25.4" fill="#a9a9a9" stroke="#111" stroke-width="1.8"/>
<rect x="1899.8" y="935.0" width="29.6" height="7.0" fill="#a9a9a9" stroke="#111" stroke-width="1.8"/>
<rect x="1939.1" y="937.8" width="29.6" height="4.2" fill="#a9a9a9" stroke="#111" stroke-width="1.8"/>
<rect x="1978.4" y="940.5" width="29.6" height="1.5" fill="#a9a9a9" stroke="#111" stroke-width="1.8"/>
<path d="M1655.3,622 L1655.3,956.8 L2016.7,956.8" fill="none" stroke="#0a0a0a" stroke-width="3.5" stroke-linecap="butt" stroke-linejoin="miter"/>
<line x1="1646" y1="942.0" x2="1655" y2="942.0" stroke="#111" stroke-width="1.8"/>
<line x1="1646" y1="878.4" x2="1655" y2="878.4" stroke="#111" stroke-width="1.8"/>
<line x1="1646" y1="814.8" x2="1655" y2="814.8" stroke="#111" stroke-width="1.8"/>
<line x1="1646" y1="751.2" x2="1655" y2="751.2" stroke="#111" stroke-width="1.8"/>
<line x1="1646" y1="687.6" x2="1655" y2="687.6" stroke="#111" stroke-width="1.8"/>
<line x1="1678.8" y1="957" x2="1678.8" y2="966" stroke="#111" stroke-width="1.8"/>
<line x1="1718.1" y1="957" x2="1718.1" y2="966" stroke="#111" stroke-width="1.8"/>
<line x1="1757.4" y1="957" x2="1757.4" y2="966" stroke="#111" stroke-width="1.8"/>
<line x1="1796.6" y1="957" x2="1796.6" y2="966" stroke="#111" stroke-width="1.8"/>
<line x1="1835.9" y1="957" x2="1835.9" y2="966" stroke="#111" stroke-width="1.8"/>
<line x1="1875.2" y1="957" x2="1875.2" y2="966" stroke="#111" stroke-width="1.8"/>
<line x1="1914.5" y1="957" x2="1914.5" y2="966" stroke="#111" stroke-width="1.8"/>
<line x1="1953.8" y1="957" x2="1953.8" y2="966" stroke="#111" stroke-width="1.8"/>
<line x1="1993.0" y1="957" x2="1993.0" y2="966" stroke="#111" stroke-width="1.8"/>
<text transform="translate(1587.15,697.70) scale(1.0763,1)" font-size="41.60" fill="#000">20</text>
<text transform="translate(1589.56,825.60) scale(1.0222,1)" font-size="41.60" fill="#000">10</text>
<text transform="translate(1612.48,953.10) scale(1.0560,1)" font-size="41.60" fill="#000">0</text>
<text transform="translate(1668.78,1005.40) scale(1,1.030)" font-size="41.50" fill="#000">0</text>
<text transform="translate(1745.81,1005.40) scale(1,1.030)" font-size="41.50" fill="#000">2</text>
<text transform="translate(1824.45,1005.40) scale(1,1.030)" font-size="41.50" fill="#000">4</text>
<text transform="translate(1903.39,1005.40) scale(1,1.030)" font-size="41.50" fill="#000">6</text>
<text transform="translate(1981.90,1005.40) scale(1,1.030)" font-size="41.50" fill="#000">8</text>
<text transform="translate(1617.10,1052.90)" font-size="46.57" fill="#000"># of T-to-C mutations</text>
<text transform="translate(1556.30,955.41) rotate(-90) scale(1,1.050)" font-size="45.20" fill="#000">Percent of reads</text>
</g>
<g id="line-chart">
<line x1="704.7" y1="583.5" x2="1218.5" y2="583.5" stroke="#050507" stroke-width="6.7" stroke-dasharray="6.4 20.3"/>
<polyline points="729.3,584.3 731.3,592.2 733.3,599.9 735.3,607.5 737.3,615.0 739.3,622.3 741.3,629.6 743.3,636.6 745.3,643.6 747.3,650.4 749.3,657.1 751.3,663.7 753.3,670.2 755.3,676.6 757.3,682.8 759.3,689.0 761.3,695.0 763.3,700.9 765.3,706.7 767.3,712.4 769.3,718.1 771.3,723.6 773.3,729.0 775.3,734.3 777.3,739.5 779.3,744.7 781.3,749.7 783.3,754.7 785.3,759.5 787.3,764.3 789.3,769.0 791.3,773.6 793.3,778.1 795.3,782.6 797.3,787.0 799.3,791.3 801.3,795.5 803.3,799.6 805.3,803.7 807.3,807.7 809.3,811.6 811.3,815.5 813.3,819.3 815.3,823.0 817.3,826.6 819.3,830.2 821.3,833.8 823.3,837.2 825.3,840.6 827.3,844.0 829.3,847.3 831.3,850.5 833.3,853.7 835.3,856.8 837.3,859.8 839.3,862.8 841.3,865.8 843.3,868.7 845.3,871.5 847.3,874.3 849.3,877.1 851.3,879.8 853.3,882.4 855.3,885.0 857.3,887.6 859.3,890.1 861.3,892.6 863.3,895.0 865.3,897.4 867.3,899.7 869.3,902.0 871.3,904.3 873.3,906.5 875.3,908.7 877.3,910.8 879.3,912.9 881.3,915.0 883.3,917.0 885.3,919.0 887.3,920.9 889.3,922.9 891.3,924.8 893.3,926.6 895.3,928.4 897.3,930.2 899.3,932.0 901.3,933.7 903.3,935.4 905.3,937.1 907.3,938.7 909.3,940.3 911.3,941.9 913.3,943.4 915.3,945.0 917.3,946.5 919.3,947.9 921.3,949.4 923.3,950.8 925.3,952.2 927.3,953.6 929.3,954.9 931.3,956.2 933.3,957.5 935.3,958.8 937.3,960.1 939.3,961.3 941.3,962.5 943.3,963.7 945.3,964.8 947.3,966.0 949.3,967.1 951.3,968.2 953.3,969.3 955.3,970.4 957.3,971.4 959.3,972.4 961.3,973.5 963.3,974.4 965.3,975.4 967.3,976.4 969.3,977.3 971.3,978.2 973.3,979.1 975.3,980.0 977.3,980.9 979.3,981.8 981.3,982.6 983.3,983.5 985.3,984.3 987.3,985.1 989.3,985.9 991.3,986.6 993.3,987.4 995.3,988.1 997.3,988.9 999.3,989.6 1001.3,990.3 1003.3,991.0 1005.3,991.7 1007.3,992.3 1009.3,993.0 1011.3,993.6 1013.3,994.3 1015.3,994.9 1017.3,995.5 1019.3,996.1 1021.3,996.7 1023.3,997.3 1025.3,997.9 1027.3,998.4 1029.3,999.0 1031.3,999.5 1033.3,1000.0 1035.3,1000.6 1037.3,1001.1 1039.3,1001.6 1041.3,1002.1 1043.3,1002.6 1045.3,1003.0 1047.3,1003.5 1049.3,1004.0 1051.3,1004.4 1053.3,1004.9 1055.3,1005.3 1057.3,1005.7 1059.3,1006.1 1061.3,1006.6 1063.3,1007.0 1065.3,1007.4 1067.3,1007.8 1069.3,1008.1 1071.3,1008.5 1073.3,1008.9 1075.3,1009.3 1077.3,1009.6 1079.3,1010.0 1081.3,1010.3 1083.3,1010.7 1085.3,1011.0 1087.3,1011.3 1089.3,1011.6 1091.3,1012.0 1093.3,1012.3 1095.3,1012.6 1097.3,1012.9 1099.3,1013.2 1101.3,1013.5 1103.3,1013.7 1105.3,1014.0 1107.3,1014.3 1109.3,1014.6 1111.3,1014.8 1113.3,1015.1 1115.3,1015.3 1117.3,1015.6 1119.3,1015.8 1121.3,1016.1 1123.3,1016.3 1125.3,1016.5 1127.3,1016.8 1129.3,1017.0 1131.3,1017.2 1133.3,1017.4 1135.3,1017.7 1137.3,1017.9 1139.3,1018.1 1141.3,1018.3 1143.3,1018.5 1145.3,1018.7 1147.3,1018.9 1149.3,1019.0 1151.3,1019.2 1153.3,1019.4 1155.3,1019.6 1157.3,1019.8 1159.3,1019.9 1161.3,1020.1 1163.3,1020.3 1165.3,1020.4 1167.3,1020.6 1169.3,1020.8 1171.3,1020.9 1173.3,1021.1 1175.3,1021.2 1177.3,1021.4 1179.3,1021.5 1181.3,1021.6 1183.3,1021.8 1185.3,1021.9 1187.3,1022.1 1189.3,1022.2 1191.3,1022.3 1193.3,1022.4 1195.3,1022.6 1197.3,1022.7 1199.3,1022.8 1201.3,1022.9 1203.9,1023.1" fill="none" stroke="#a8a8a8" stroke-width="6.6"/>
<polyline points="729.3,1030.8 731.3,1022.9 733.3,1015.1 735.3,1007.5 737.3,1000.0 739.3,992.6 741.3,985.4 743.3,978.3 745.3,971.3 747.3,964.4 749.3,957.7 751.3,951.1 753.3,944.6 755.3,938.2 757.3,931.9 759.3,925.7 761.3,919.7 763.3,913.7 765.3,907.9 767.3,902.2 769.3,896.5 771.3,891.0 773.3,885.6 775.3,880.2 777.3,875.0 779.3,869.8 781.3,864.8 783.3,859.8 785.3,854.9 787.3,850.1 789.3,845.4 791.3,840.8 793.3,836.2 795.3,831.7 797.3,827.4 799.3,823.0 801.3,818.8 803.3,814.7 805.3,810.6 807.3,806.6 809.3,802.6 811.3,798.7 813.3,794.9 815.3,791.2 817.3,787.5 819.3,783.9 821.3,780.4 823.3,776.9 825.3,773.5 827.3,770.1 829.3,766.8 831.3,763.6 833.3,760.4 835.3,757.3 837.3,754.2 839.3,751.2 841.3,748.2 843.3,745.3 845.3,742.5 847.3,739.7 849.3,736.9 851.3,734.2 853.3,731.5 855.3,728.9 857.3,726.4 859.3,723.8 861.3,721.4 863.3,718.9 865.3,716.5 867.3,714.2 869.3,711.9 871.3,709.6 873.3,707.4 875.3,705.2 877.3,703.0 879.3,700.9 881.3,698.9 883.3,696.8 885.3,694.8 887.3,692.9 889.3,690.9 891.3,689.0 893.3,687.2 895.3,685.4 897.3,683.6 899.3,681.8 901.3,680.1 903.3,678.4 905.3,676.7 907.3,675.0 909.3,673.4 911.3,671.8 913.3,670.3 915.3,668.8 917.3,667.3 919.3,665.8 921.3,664.3 923.3,662.9 925.3,661.5 927.3,660.1 929.3,658.8 931.3,657.5 933.3,656.2 935.3,654.9 937.3,653.6 939.3,652.4 941.3,651.2 943.3,650.0 945.3,648.8 947.3,647.7 949.3,646.5 951.3,645.4 953.3,644.3 955.3,643.3 957.3,642.2 959.3,641.2 961.3,640.2 963.3,639.2 965.3,638.2 967.3,637.2 969.3,636.3 971.3,635.4 973.3,634.4 975.3,633.5 977.3,632.7 979.3,631.8 981.3,631.0 983.3,630.1 985.3,629.3 987.3,628.5 989.3,627.7 991.3,626.9 993.3,626.2 995.3,625.4 997.3,624.7 999.3,624.0 1001.3,623.3 1003.3,622.6 1005.3,621.9 1007.3,621.2 1009.3,620.5 1011.3,619.9 1013.3,619.3 1015.3,618.6 1017.3,618.0 1019.3,617.4 1021.3,616.8 1023.3,616.2 1025.3,615.7 1027.3,615.1 1029.3,614.6 1031.3,614.0 1033.3,613.5 1035.3,613.0 1037.3,612.4 1039.3,611.9 1041.3,611.4 1043.3,610.9 1045.3,610.5 1047.3,610.0 1049.3,609.5 1051.3,609.1 1053.3,608.6 1055.3,608.2 1057.3,607.8 1059.3,607.3 1061.3,606.9 1063.3,606.5 1065.3,606.1 1067.3,605.7 1069.3,605.3 1071.3,605.0 1073.3,604.6 1075.3,604.2 1077.3,603.9 1079.3,603.5 1081.3,603.2 1083.3,602.8 1085.3,602.5 1087.3,602.2 1089.3,601.8 1091.3,601.5 1093.3,601.2 1095.3,600.9 1097.3,600.6 1099.3,600.3 1101.3,600.0 1103.3,599.7 1105.3,599.4 1107.3,599.2 1109.3,598.9 1111.3,598.6 1113.3,598.4 1115.3,598.1 1117.3,597.9 1119.3,597.6 1121.3,597.4 1123.3,597.1 1125.3,596.9 1127.3,596.7 1129.3,596.4 1131.3,596.2 1133.3,596.0 1135.3,595.8 1137.3,595.6 1139.3,595.4 1141.3,595.2 1143.3,595.0 1145.3,594.8 1147.3,594.6 1149.3,594.4 1151.3,594.2 1153.3,594.0 1155.3,593.8 1157.3,593.7 1159.3,593.5 1161.3,593.3 1163.3,593.2 1165.3,593.0 1167.3,592.8 1169.3,592.7 1171.3,592.5 1173.3,592.4 1175.3,592.2 1177.3,592.1 1179.3,591.9 1181.3,591.8 1183.3,591.6 1185.3,591.5 1187.3,591.4 1189.3,591.2 1191.3,591.1 1193.3,591.0 1195.3,590.9 1197.3,590.7 1199.3,590.6 1201.3,590.5 1203.9,590.3" fill="none" stroke="#ed1c24" stroke-width="6.6"/>
<path d="M705.6,561 L705.6,1052.2 L1227.5,1052.2" fill="none" stroke="#000" stroke-width="4.4"/>
<text transform="translate(743.80,556.00)" font-size="41.82" fill="#000">Steady-state levels (R</text><text transform="translate(1151.22,568.30)" font-size="24.30" fill="#000">ss</text><text transform="translate(1177.06,556.00)" font-size="41.80" fill="#000">)</text>
<text transform="translate(1027.11,661.80)" font-size="41.72" font-weight="bold" fill="#ed1c24">Labeled</text>
<text transform="translate(1060.59,712.80) scale(1,1.040)" font-size="41.96" font-weight="bold" fill="#ed1c24">RNA</text>
<text transform="translate(1008.29,933.50)" font-size="41.85" font-weight="bold" fill="#a8a8a8">Unlabeled</text>
<text transform="translate(1063.21,984.00) scale(1,1.040)" font-size="41.72" font-weight="bold" fill="#a8a8a8">RNA</text>
<text transform="translate(730.98,1105.50)" font-size="49.86" fill="#000">Time since label start</text>
<text transform="translate(672.90,874.62) rotate(-90) scale(1,0.990)" font-size="50.74" fill="#000">[RNA]</text>
</g>
<g id="equations">
<text transform="translate(93.06,652.10) scale(1,1.040)" font-size="50.00" font-weight="bold" fill="#adadad">R</text><text transform="translate(129.66,667.90)" font-size="29.19" font-weight="bold" fill="#adadad">old</text><text transform="translate(186.92,652.10)" font-size="50.00" font-weight="bold" fill="#adadad">=</text><text transform="translate(229.96,652.10) scale(1,1.040)" font-size="50.00" font-weight="bold" fill="#adadad">R</text><text transform="translate(265.56,667.90)" font-size="29.53" font-weight="bold" fill="#adadad">ss</text><text transform="translate(298.05,652.10)" font-size="50.00" font-weight="bold" fill="#adadad">e</text><text transform="translate(327.03,619.90)" font-size="27.49" font-weight="bold" fill="#adadad">-k</text><text transform="translate(352.49,630.20)" font-size="29.52" font-weight="bold" fill="#adadad">deg</text><text transform="translate(412.71,630.20)" font-size="29.17" font-weight="bold" fill="#adadad">*</text><text transform="translate(432.14,619.90)" font-size="29.17" font-weight="bold" fill="#adadad">t</text><text transform="translate(441.44,630.20)" font-size="29.46" font-weight="bold" fill="#adadad">label</text>
<text transform="translate(37.46,856.30) scale(1,1.040)" font-size="50.00" font-weight="bold" fill="#ed1c24">R</text><text transform="translate(72.77,872.90)" font-size="27.75" font-weight="bold" fill="#ed1c24">new</text><text transform="translate(144.12,856.30)" font-size="50.00" font-weight="bold" fill="#ed1c24">=</text><text transform="translate(187.26,856.30) scale(1,1.040)" font-size="50.00" font-weight="bold" fill="#ed1c24">R</text><text transform="translate(222.89,872.90)" font-size="28.86" font-weight="bold" fill="#ed1c24">ss</text><text transform="translate(263.01,856.30)" font-size="50.00" font-weight="bold" fill="#ed1c24">(</text><text transform="translate(280.35,856.30)" font-size="50.00" font-weight="bold" fill="#ed1c24">1</text><text transform="translate(307.95,856.30)" font-size="50.00" font-weight="bold" fill="#ed1c24">-</text><text transform="translate(337.05,856.30)" font-size="50.00" font-weight="bold" fill="#ed1c24">e</text><text transform="translate(367.02,824.40)" font-size="27.73" font-weight="bold" fill="#ed1c24">-k</text><text transform="translate(392.71,834.60)" font-size="28.92" font-weight="bold" fill="#ed1c24">deg</text><text transform="translate(452.61,834.60)" font-size="29.17" font-weight="bold" fill="#ed1c24">*</text><text transform="translate(473.14,824.40)" font-size="29.17" font-weight="bold" fill="#ed1c24">t</text><text transform="translate(481.14,834.60)" font-size="29.46" font-weight="bold" fill="#ed1c24">label</text><text transform="translate(550.35,856.30)" font-size="50.00" font-weight="bold" fill="#ed1c24">)</text>
<text transform="translate(-0.68,1045.00) scale(1,1.040)" font-size="50.91" fill="#000">NTR</text><text transform="translate(116.60,1045.00)" font-size="50.00" fill="#000">(</text><text transform="translate(135.33,1045.00)" font-size="50.00" font-style="italic" fill="#000">θ</text><text transform="translate(164.71,1045.00)" font-size="50.00" fill="#000">)</text><text transform="translate(190.86,1045.00)" font-size="50.00" fill="#000">=</text><text transform="translate(233.90,1045.00) scale(1,1.040)" font-size="50.00" fill="#000">R</text><text transform="translate(269.58,1061.00)" font-size="28.86" fill="#000">new</text><text transform="translate(324.00,1045.00)" font-size="50.00" fill="#000">/</text><text transform="translate(337.90,1045.00)" font-size="50.00" fill="#000">(</text><text transform="translate(354.90,1045.00) scale(1,1.040)" font-size="50.00" fill="#000">R</text><text transform="translate(390.78,1061.00)" font-size="29.07" fill="#000">old</text><text transform="translate(438.46,1045.00)" font-size="50.00" fill="#000">+</text><text transform="translate(480.60,1045.00) scale(1,1.040)" font-size="50.00" fill="#000">R</text><text transform="translate(516.28,1061.00)" font-size="28.86" fill="#000">new</text><text transform="translate(572.51,1045.00)" font-size="50.00" fill="#000">)</text>
</g>
</svg></body></html>
